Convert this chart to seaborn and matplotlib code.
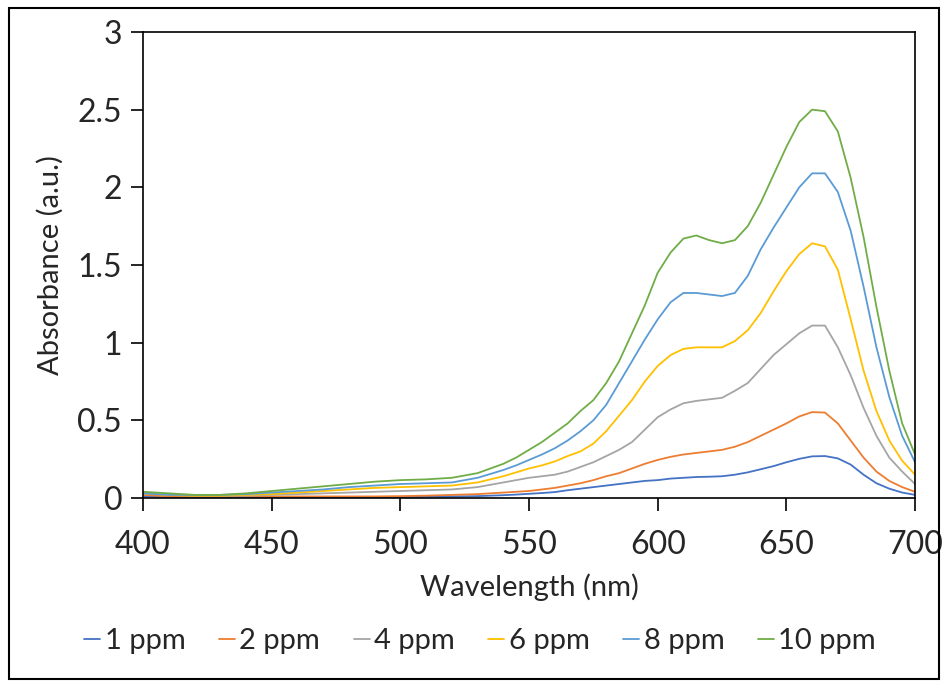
import pandas as pd
import matplotlib
matplotlib.use("Agg")
import matplotlib.pyplot as plt
import matplotlib.patches as patches
import seaborn as sns

# wavelength grid (nm)
wavelength = [400, 410, 420, 430, 440, 450, 460, 470, 480, 490, 500, 510, 520, 530, 540,
              545, 550, 555, 560, 565, 570, 575, 580, 585, 590, 595, 600, 605, 610, 615,
              620, 625, 630, 635, 640, 645, 650, 655, 660, 665, 670, 675, 680, 685, 690,
              695, 700]

# absorbance
abs_1ppm = [0.01, 0.005, 0.005, 0.005, 0.005, 0.005, 0.005, 0.005, 0.005, 0.005, 0.005, 0.008, 0.01, 0.012, 0.018,
            0.022, 0.027, 0.032, 0.038, 0.05, 0.06, 0.07, 0.08, 0.09, 0.10, 0.11, 0.115, 0.125, 0.13, 0.135,
            0.137, 0.14, 0.15, 0.165, 0.185, 0.205, 0.23, 0.252, 0.268, 0.27, 0.255, 0.215, 0.15, 0.095, 0.06,
            0.035, 0.02]
abs_2ppm = [0.02, 0.01, 0.01, 0.01, 0.01, 0.01, 0.01, 0.01, 0.01, 0.01, 0.012, 0.015, 0.02, 0.025, 0.035,
            0.04, 0.045, 0.055, 0.065, 0.08, 0.095, 0.115, 0.14, 0.16, 0.19, 0.22, 0.245, 0.265, 0.28, 0.29,
            0.30, 0.31, 0.33, 0.36, 0.40, 0.44, 0.48, 0.525, 0.553, 0.55, 0.48, 0.37, 0.26, 0.17, 0.11,
            0.07, 0.04]
abs_4ppm = [0.03, 0.02, 0.015, 0.015, 0.015, 0.02, 0.025, 0.03, 0.035, 0.04, 0.045, 0.05, 0.055, 0.07, 0.10,
            0.115, 0.13, 0.14, 0.15, 0.17, 0.20, 0.23, 0.27, 0.31, 0.36, 0.44, 0.52, 0.57, 0.61, 0.625,
            0.635, 0.645, 0.69, 0.74, 0.83, 0.92, 0.99, 1.06, 1.11, 1.11, 0.97, 0.79, 0.58, 0.40, 0.26,
            0.17, 0.09]
abs_6ppm = [0.03, 0.02, 0.015, 0.015, 0.02, 0.025, 0.035, 0.045, 0.055, 0.065, 0.07, 0.075, 0.08, 0.10, 0.14,
            0.165, 0.19, 0.21, 0.235, 0.27, 0.30, 0.35, 0.43, 0.53, 0.63, 0.75, 0.85, 0.92, 0.96, 0.97,
            0.97, 0.97, 1.01, 1.08, 1.19, 1.33, 1.46, 1.57, 1.64, 1.62, 1.47, 1.15, 0.82, 0.56, 0.37,
            0.24, 0.15]
abs_8ppm = [0.03, 0.02, 0.02, 0.02, 0.025, 0.035, 0.045, 0.055, 0.07, 0.08, 0.09, 0.095, 0.10, 0.13, 0.18,
            0.21, 0.245, 0.28, 0.32, 0.37, 0.43, 0.50, 0.60, 0.74, 0.88, 1.02, 1.15, 1.26, 1.32, 1.32,
            1.31, 1.30, 1.32, 1.43, 1.60, 1.74, 1.87, 2.00, 2.09, 2.09, 1.97, 1.72, 1.36, 0.97, 0.65,
            0.40, 0.23]
abs_10ppm = [0.04, 0.03, 0.02, 0.02, 0.03, 0.045, 0.06, 0.075, 0.09, 0.105, 0.115, 0.12, 0.13, 0.16, 0.22,
             0.26, 0.31, 0.36, 0.42, 0.48, 0.56, 0.63, 0.74, 0.88, 1.06, 1.24, 1.45, 1.58, 1.67, 1.69,
             1.66, 1.64, 1.66, 1.75, 1.90, 2.08, 2.26, 2.42, 2.50, 2.49, 2.36, 2.06, 1.68, 1.23, 0.82,
             0.48, 0.28]

labels = ["1 ppm", "2 ppm", "4 ppm", "6 ppm", "8 ppm", "10 ppm"]
colors = ["#4472C4", "#ED7D31", "#A5A5A5", "#FFC000", "#5B9BD5", "#70AD47"]

series = [abs_1ppm, abs_2ppm, abs_4ppm, abs_6ppm, abs_8ppm, abs_10ppm]
df = pd.concat([pd.DataFrame({"wavelength": wavelength, "absorbance": s, "conc": lab})
                for s, lab in zip(series, labels)], ignore_index=True)

sns.set_style("white")
plt.rcParams["font.family"] = ["Lato", "DejaVu Sans"]

fig = plt.figure(figsize=(9.45, 6.82), dpi=100)
ax = fig.add_axes([0.1513, 0.2698, 0.817, 0.6833])

sns.lineplot(data=df, x="wavelength", y="absorbance", hue="conc", hue_order=labels,
             palette=dict(zip(labels, colors)), linewidth=1.3, ax=ax, legend=True)

ax.set_xlim(400, 700)
ax.set_ylim(0, 3)
ax.set_xticks([400, 450, 500, 550, 600, 650, 700])
ax.set_yticks([0, 0.5, 1, 1.5, 2, 2.5, 3])
ax.set_yticklabels(["0", "0.5", "1", "1.5", "2", "2.5", "3"])
ax.tick_params(axis="both", direction="out", length=9, width=1.2, color="black",
               labelsize=23, bottom=True, left=True)
ax.tick_params(axis="x", pad=14)
ax.tick_params(axis="y", pad=6)
for sp in ax.spines.values():
    sp.set_visible(True)
    sp.set_color("black")
    sp.set_linewidth(1.2)

ax.set_xlabel("Wavelength (nm)", fontsize=21, labelpad=10)
ax.set_ylabel("Absorbance (a.u.)", fontsize=21, labelpad=10)

handles, labs = ax.get_legend_handles_labels()
ax.get_legend().remove()
fig.legend(handles, labs, loc="center", bbox_to_anchor=(0.508, 0.06), ncol=6,
           frameon=False, fontsize=21, handlelength=0.55, handletextpad=0.15,
           columnspacing=1.15)

# outer frame around the whole chart
fig.patches.append(patches.Rectangle((0.009, 0.004), 0.985, 0.985, transform=fig.transFigure,
                                     fill=False, edgecolor="black", linewidth=1.5))

fig.savefig("out.png", dpi=100)
